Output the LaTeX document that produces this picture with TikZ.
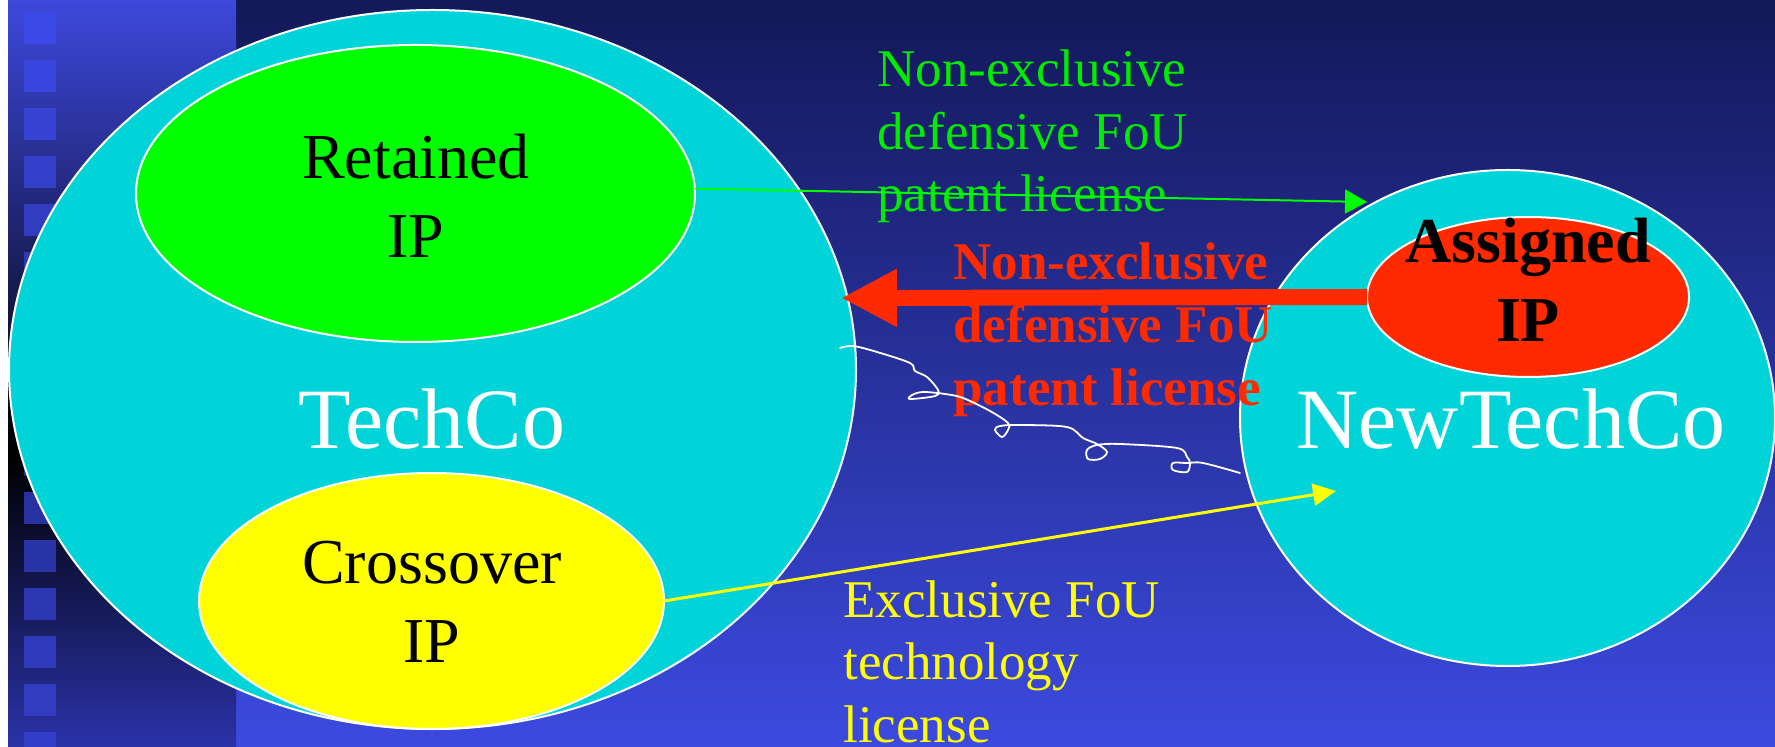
\documentclass[tikz,border=0pt]{standalone}
\usepackage{fontspec}
\setmainfont{Liberation Serif}
\usetikzlibrary{shapes.geometric,arrows.meta}

\definecolor{bgtop}{RGB}{19,24,88}
\definecolor{bgbot}{RGB}{60,74,224}
\definecolor{striptop}{RGB}{61,72,220}
\definecolor{stripbot}{RGB}{42,50,168}
\definecolor{sqtop}{RGB}{60,74,232}
\definecolor{sqmid}{RGB}{37,45,150}
\definecolor{sqbot}{RGB}{52,64,204}
\definecolor{cyanfill}{RGB}{0,212,216}
\definecolor{retgreen}{RGB}{0,255,0}
\definecolor{labgreen}{RGB}{0,236,0}
\definecolor{asgred}{RGB}{255,42,0}
\definecolor{xyellow}{RGB}{255,255,0}

\begin{document}
\begin{tikzpicture}[x=0.5pt,y=-0.5pt,
  blob/.style={ellipse, draw=white, line width=1pt, inner sep=0pt, outer sep=0pt},
  iptext/.style={align=center, inner sep=0pt, text=black, font=\fontsize{32}{39.5}\selectfont},
  coname/.style={text=white, inner sep=0pt, font=\fontsize{43}{50}\selectfont},
  lic/.style={align=left, inner sep=0pt, font=\fontsize{26.5}{31.25}\selectfont},
  thinarrow/.style={line width=1pt, -{Triangle[length=11pt,width=12pt]}},
  squig/.style={draw=white, line width=0.9pt, line cap=round, line join=round}]

\useasboundingbox (0,0) rectangle (1775,747);

% backdrop
\fill[white] (0,0) rectangle (8,747);
\shade[top color=bgtop, bottom color=bgbot] (236,0) rectangle (1775,747);
\shade[top color=striptop, bottom color=black] (8,0) rectangle (236,455);
\shade[top color=black, bottom color=stripbot] (8,455) rectangle (236,747);

% square column
\foreach \k in {0,...,8}{
  \pgfmathtruncatemacro{\p}{(12+48*\k)/420*100}
  \fill[sqmid!\p!sqtop] (24,12+48*\k) rectangle (56,44+48*\k);
}
\foreach \k in {9,...,15}{
  \pgfmathtruncatemacro{\p}{(12+48*\k-420)/327*100}
  \fill[sqbot!\p!sqmid] (24,12+48*\k) rectangle (56,44+48*\k);
}

% companies and IP pools
\node[blob, fill=cyanfill, minimum width=423.5pt, minimum height=359.5pt] (techco) at (432.5,369.5) {};
\node[blob, fill=retgreen, minimum width=279.5pt, minimum height=148.5pt] (ret) at (415.5,193.5) {};
\node[blob, fill=xyellow, minimum width=232.5pt, minimum height=128pt] (cross) at (431.5,601) {};
\node[blob, fill=cyanfill, minimum width=267.5pt, minimum height=248pt] (newco) at (1507.5,418) {};
\node[blob, fill=asgred, minimum width=161pt, minimum height=80pt] (asg) at (1528,297) {};

% names (anchored on the baseline of the last line)
\node[iptext, anchor=base] (rettext) at (416,258) {Retained\\IP};
\node[iptext, anchor=base] (crosstext) at (432,662) {Crossover\\IP};
\node[iptext, anchor=base, font=\fontsize{32}{39.5}\selectfont\bfseries] (asgtext) at (1528,342) {Assigned\\IP};
\node[coname, anchor=base] (techtext) at (432,449) {TechCo};
\node[coname, anchor=base] (newtext) at (1511,449) {NewTechCo};

% licence labels
\node[lic, text=labgreen, anchor=base west] (glab) at (877,212) {Non-exclusive\\defensive FoU\\patent license};
\node[lic, text=asgred, anchor=base west, font=\fontsize{26.5}{31.5}\selectfont\bfseries] (rlab) at (953,406) {Non-exclusive\\defensive FoU\\patent license};
\node[lic, text=xyellow, anchor=base west] (ylab) at (843,742) {Exclusive FoU\\technology\\license};

% licence arrows
\coordinate (gtip) at (1367,202);
\coordinate (rtip) at (841,298);
\coordinate (ytip) at (1336,491);
\draw[thinarrow, draw=retgreen, fill=retgreen] (ret.1) -- (gtip);
\draw[draw=asgred, line width=8pt, -{Triangle[length=28pt,width=27pt]}] (asg.west) -- (rtip);
\draw[draw=xyellow, line width=1.5pt, -{Triangle[length=11.5pt,width=11pt]}] (cross.east) -- (ytip);

% freehand stroke between the companies
\draw[squig] plot[smooth, tension=0.55] coordinates {
  (840,348) (853,346) (877,352) (910,363) (915,371) (927,377) (938,390)
  (935,396) (910,399) (912,395) (923,392) (945,394) (963,398) (990,411)
  (1008,423) (1008,430) (1002,437) (995,430) (1000,426) (1020,425) (1067,427)
  (1083,438) (1097,444) (1107,452) (1100,459) (1088,459) (1087,450) (1097,445)
  (1120,444) (1177,448) (1187,457) (1190,463) (1187,472) (1173,470) (1173,463)
  (1187,463) (1203,463) (1240,473)};
\end{tikzpicture}
\end{document}
